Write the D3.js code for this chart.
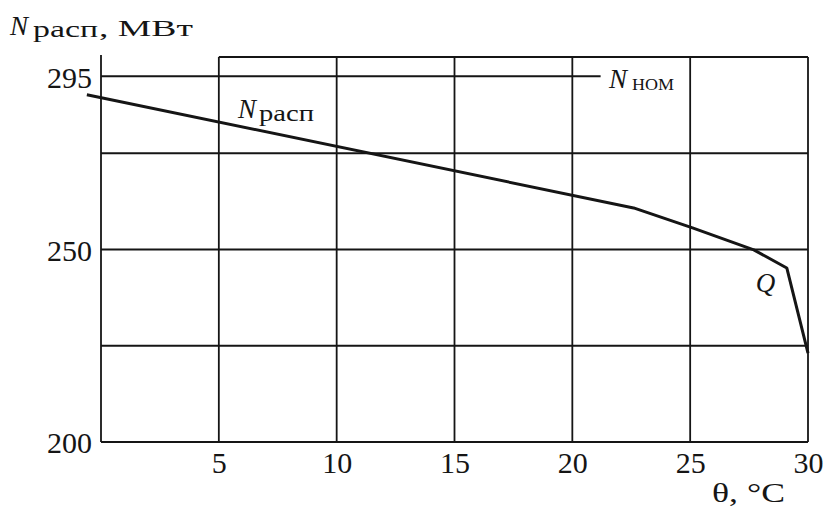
<!DOCTYPE html>
<html>
<head>
<meta charset="utf-8">
<script src="https://cdn.jsdelivr.net/npm/d3@7"></script>
</head>
<body style="margin:0;background:#fff">
<svg id="chart" width="828" height="509" style="display:block" font-family="Liberation Serif"></svg>
<script>
// Available power vs. cooling-water temperature
const theta = [-0.6, 22.6, 25.1, 27.7, 29.1, 30];
const power = [290.2, 260.8, 255.6, 249.9, 245.2, 223.1];

const xTicks = [5, 10, 15, 20, 25, 30];
const yTickLabels = [200, 250, 295];
const yGrid = [225, 250, 275];
const nominal = 295;
const pointQ = { theta: 29.1, power: 245.2 };

const serif = "Liberation Serif";
const ink = "#151515";
const svg = d3.select("#chart");

const x = d3.scaleLinear().domain([0, 30]).range([101, 808]);
const y = d3.scaleLinear().domain([200, 300]).range([442, 57]);

const g = svg.append("g");

// horizontal grid lines
g.selectAll("line.hgrid").data(yGrid).join("line")
  .attr("x1", x(0)).attr("x2", x(30))
  .attr("y1", d => y(d)).attr("y2", d => y(d))
  .attr("stroke", ink).attr("stroke-width", 1.8);

// vertical grid lines (5..25) and right border (30)
g.selectAll("line.vgrid").data(xTicks).join("line")
  .attr("x1", d => x(d)).attr("x2", d => x(d))
  .attr("y1", y(200)).attr("y2", y(300))
  .attr("stroke", ink).attr("stroke-width", 1.8);

// top border from the 5 °C line to the right edge
g.append("line")
  .attr("x1", x(5)).attr("x2", x(30))
  .attr("y1", y(300)).attr("y2", y(300))
  .attr("stroke", ink).attr("stroke-width", 1.8);

// nominal power line
g.append("line")
  .attr("x1", x(0)).attr("x2", x(21.2))
  .attr("y1", y(nominal)).attr("y2", y(nominal))
  .attr("stroke", ink).attr("stroke-width", 1.8);

// left axis
const yAxis = d3.axisLeft(y).tickValues(yTickLabels).tickSize(0).tickPadding(9)
  .tickFormat(d3.format("d"));
const ya = svg.append("g").attr("transform", `translate(${x(0)},0)`).call(yAxis)
  .attr("font-family", serif).attr("font-size", 30);
ya.select(".domain").attr("d", `M0,${y(200)}V${y(300) - 2}`)
  .attr("stroke", ink).attr("stroke-width", 1.8);
ya.selectAll(".tick text")
  .attr("font-family", serif).attr("font-size", 30)
  .attr("fill", ink).attr("dy", "0.36em");

// bottom axis
const xAxis = d3.axisBottom(x).tickValues(xTicks).tickSize(0).tickPadding(10)
  .tickFormat(d3.format("d"));
const xa = svg.append("g").attr("transform", `translate(0,${y(200)})`).call(xAxis)
  .attr("font-family", serif).attr("font-size", 30);
xa.select(".domain").attr("d", `M${x(0)},0H${x(30)}`)
  .attr("stroke", ink).attr("stroke-width", 2);
xa.selectAll(".tick text")
  .attr("font-family", serif).attr("font-size", 30)
  .attr("fill", ink);

// power curve
const line = d3.line().x((d, i) => x(theta[i])).y((d, i) => y(power[i]));
svg.append("path")
  .attr("d", line(power))
  .attr("fill", "none").attr("stroke", ink)
  .attr("stroke-width", 3).attr("stroke-linejoin", "round");

// text helper
function label(str, px, py, size, opts = {}) {
  const t = svg.append("text")
    .attr("x", px).attr("y", py)
    .attr("fill", ink)
    .attr("font-family", serif)
    .attr("font-size", size)
    .attr("font-style", opts.italic ? "italic" : "normal")
    .text(str);
  if (opts.len) t.attr("textLength", opts.len).attr("lengthAdjust", "spacingAndGlyphs");
  return t;
}

// y-axis title
label("N", 10, 35, 27, { italic: true });
label("расп", 33, 37, 23, { len: 65 });
label(", МВт", 99, 36, 23, { len: 94 });

// x-axis title
label("θ, °C", 712, 502, 28, { len: 73 });

// curve labels
label("N", 238, 118, 27, { italic: true });
label("расп", 259, 121, 23, { len: 55 });

label("N", 609, 88, 27, { italic: true });
label("НОМ", 632, 90, 16, { len: 42 });

label("Q", x(pointQ.theta) - 31, y(pointQ.power) + 24, 27, { italic: true });
</script>
</body>
</html>
